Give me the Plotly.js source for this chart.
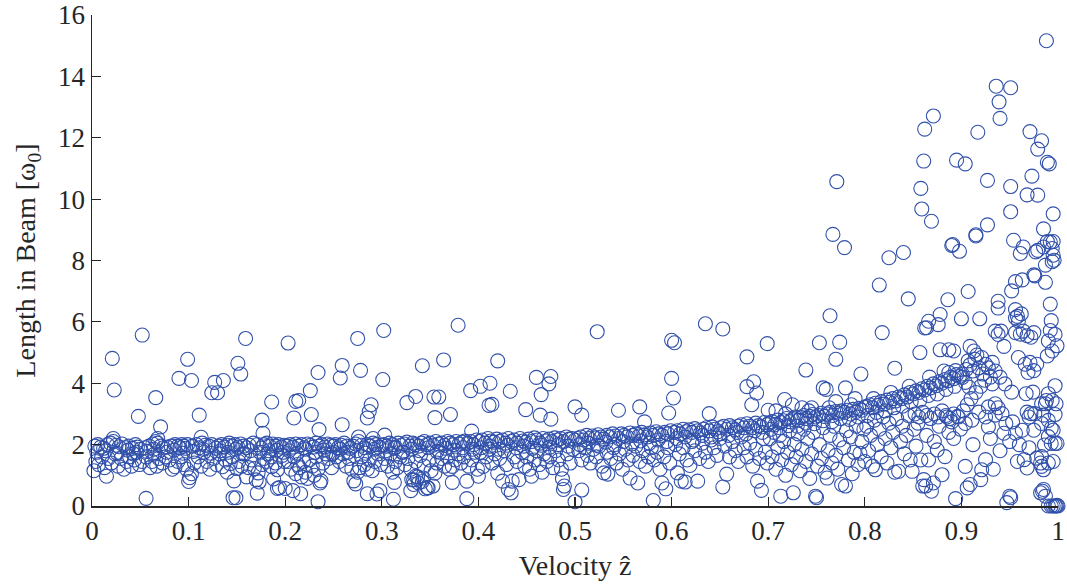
<!DOCTYPE html>
<html>
<head>
<meta charset="utf-8">
<script src="https://cdn.plot.ly/plotly-3.0.1.min.js"></script>
<style>
  html, body { margin: 0; padding: 0; background: #fff; }
  #plot { width: 1067px; height: 588px; }
</style>
</head>
<body>
<div id="plot"></div>
<script>
// Measured particles: [velocity ẑ, length in beam (ω0)], grouped by velocity decade.
const seg00 = [
  [.003,1.95],[.006,2.0],[.009,1.92],[.012,1.88],[.016,2.0],[.019,2.05],[.022,2.1],[.025,1.98],[.028,1.93],[.031,2.02],[.035,1.9],[.038,1.95],[.042,1.88],[.045,2.0],[.047,1.92],[.050,1.85],[.055,1.9],[.059,1.95],[.063,2.02],[.066,2.1],[.068,2.05],[.071,1.95],[.074,1.9],[.078,1.92],[.082,1.95],[.086,2.0],[.089,1.95],[.091,1.9],[.093,2.0],[.095,1.95],[.097,1.88],[.099,2.0],
  [.005,1.75],[.014,1.8],[.026,1.72],[.037,1.82],[.043,1.7],[.057,1.78],[.064,1.85],[.077,1.75],[.085,1.82],[.094,1.72],
  [.002,1.15],[.004,1.45],[.007,1.35],[.010,1.6],[.013,1.25],[.015,0.97],[.017,1.55],[.020,1.4],[.024,1.7],[.027,1.3],[.030,1.55],[.033,1.2],[.036,1.45],[.039,1.6],[.041,1.3],[.044,1.5],[.046,1.75],[.049,1.35],[.052,1.45],[.056,1.6],[.060,1.25],[.062,1.45],[.065,1.7],[.067,1.3],[.069,1.55],[.073,1.4],[.076,1.6],[.080,1.5],[.083,1.2],[.086,1.28],[.089,1.45],[.092,1.6],[.095,1.35],[.098,1.2],[.100,0.8],[.101,0.92],[.103,1.05],
  [.021,4.81],[.023,3.78],[.052,5.57],[.048,2.92],[.056,0.25],[.066,3.53],[.071,2.58],[.090,4.16],[.099,4.78],[.103,4.09],[.068,2.2],[.022,2.2]
];
const seg10 = [
  [.104,1.95],[.108,2.0],[.111,1.9],[.114,2.05],[.117,1.98],[.121,1.95],[.124,2.0],[.128,1.88],[.131,1.95],[.134,2.0],[.137,1.92],[.140,1.98],[.142,2.05],[.145,1.95],[.148,2.0],[.151,1.92],[.154,2.02],[.157,1.95],[.160,1.9],[.163,1.98],[.167,2.05],[.171,2.0],[.175,1.88],[.178,2.0],[.181,2.05],[.184,1.95],[.187,2.02],[.190,1.95],[.193,2.0],[.196,1.92],[.199,1.98],
  [.105,1.78],[.115,1.85],[.123,1.72],[.133,1.8],[.141,1.75],[.149,1.85],[.156,1.7],[.164,1.8],[.174,1.75],[.182,1.7],[.191,1.82],[.198,1.75],
  [.106,1.4],[.110,1.6],[.113,1.3],[.116,1.75],[.119,1.45],[.122,1.2],[.126,1.55],[.129,1.35],[.132,1.7],[.135,1.28],[.138,1.5],[.140,1.1],[.143,1.38],[.145,1.6],[.147,0.82],[.150,1.22],[.152,1.45],[.155,1.3],[.158,1.7],[.160,0.95],[.162,1.25],[.165,1.5],[.168,1.22],[.170,0.85],[.173,0.78],[.176,1.35],[.178,1.55],[.181,1.45],[.183,1.8],[.186,1.28],[.188,0.88],[.190,1.4],[.192,1.18],[.194,0.6],[.197,1.65],[.199,1.45],[.172,1.08],[.185,1.6],
  [.111,2.96],[.113,2.24],[.124,3.69],[.127,4.03],[.130,3.69],[.136,4.09],[.151,4.65],[.154,4.30],[.159,5.46],[.146,0.27],[.149,0.27],[.171,0.42],[.176,2.80],[.177,2.37],[.186,3.39],[.200,0.57]
];
const seg20 = [
  [.202,1.95],[.205,2.0],[.208,1.92],[.211,2.02],[.214,1.95],[.217,2.0],[.220,1.9],[.223,2.02],[.226,1.98],[.229,1.92],[.232,2.05],[.235,1.95],[.238,2.0],[.241,1.92],[.244,2.02],[.247,1.98],[.250,1.95],[.252,2.0],[.255,1.9],[.258,1.98],[.261,2.05],[.264,1.95],[.267,1.88],[.270,1.95],[.273,2.02],[.276,2.1],[.279,1.98],[.282,1.9],[.285,2.0],[.288,1.95],[.291,2.05],[.294,2.0],[.297,1.92],[.300,1.98],
  [.204,1.8],[.212,1.72],[.221,1.85],[.231,1.75],[.240,1.82],[.249,1.7],[.257,1.85],[.265,1.75],[.274,1.8],[.283,1.72],[.292,1.85],
  [.203,1.45],[.206,1.2],[.209,1.6],[.211,1.05],[.213,1.35],[.215,1.25],[.217,0.95],[.219,1.45],[.221,1.1],[.223,0.9],[.225,1.5],[.228,1.3],[.230,1.0],[.232,1.6],[.234,1.2],[.236,0.75],[.237,0.82],[.239,1.4],[.242,1.7],[.245,1.55],[.248,1.25],[.250,1.75],[.253,1.6],[.256,1.45],[.260,1.7],[.263,1.3],[.266,1.55],[.269,1.2],[.271,0.82],[.273,0.72],[.275,1.1],[.277,1.25],[.279,1.6],[.282,1.35],[.285,1.2],[.287,1.5],[.290,1.15],[.293,1.45],[.296,1.7],[.299,1.35],
  [.203,5.31],[.211,3.41],[.214,3.44],[.209,2.87],[.226,3.76],[.227,2.98],[.234,4.35],[.235,2.49],[.234,0.14],[.216,0.40],[.192,0.57],[.208,0.5],[.257,4.17],[.259,4.58],[.259,2.65],[.275,5.46],[.278,4.42],[.285,2.87],[.287,3.08],[.289,3.30],[.285,0.40],[.295,0.39],[.298,0.5],[.276,2.25],[.291,2.2]
];
const seg30 = [
  [.302,2.0],[.305,1.95],[.308,2.05],[.311,2.0],[.314,1.92],[.317,2.05],[.320,1.98],[.323,2.02],[.326,2.08],[.329,1.95],[.332,2.05],[.335,2.0],[.338,1.95],[.341,2.05],[.344,2.1],[.347,2.0],[.350,2.05],[.353,1.98],[.356,2.1],[.359,2.02],[.362,2.05],[.365,1.98],[.368,2.1],[.371,2.05],[.374,2.0],[.377,2.1],[.380,2.02],[.383,2.08],[.386,2.12],[.389,2.05],[.392,2.1],[.395,2.0],[.398,2.15],
  [.304,1.8],[.313,1.88],[.321,1.75],[.331,1.85],[.339,1.8],[.348,1.9],[.357,1.78],[.366,1.88],[.375,1.82],[.384,1.9],[.394,1.85],
  [.303,1.55],[.306,1.3],[.309,1.7],[.311,1.1],[.314,1.45],[.316,1.25],[.319,1.6],[.322,1.75],[.324,1.35],[.327,1.55],[.330,1.2],[.333,0.85],[.335,1.45],[.337,0.95],[.340,1.65],[.342,0.8],[.344,1.3],[.347,0.6],[.349,1.5],[.351,1.15],[.353,0.65],[.355,1.07],[.357,1.4],[.360,1.75],[.362,1.55],[.365,1.3],[.368,1.6],[.370,1.2],[.373,0.77],[.373,1.29],[.376,1.5],[.379,1.7],[.382,1.4],[.385,1.6],[.388,0.81],[.390,1.3],[.393,1.5],[.396,1.75],[.399,1.2],
  [.331,0.86],[.335,0.97],[.333,0.7],[.343,0.91],[.345,0.56],
  [.302,5.72],[.301,4.12],[.303,2.31],[.312,0.22],[.313,0.77],[.326,3.37],[.335,3.57],[.342,4.57],[.354,3.55],[.355,2.88],[.359,3.55],[.364,4.76],[.371,2.98],[.379,5.89],[.392,3.76],[.393,2.44],[.388,0.24],[.348,0.59],[.330,0.5],[.338,0.75]
];
const seg40 = [
  [.401,2.1],[.404,2.15],[.407,2.05],[.410,2.2],[.413,2.12],[.416,2.08],[.419,2.18],[.422,2.1],[.425,2.15],[.428,2.05],[.431,2.2],[.434,2.1],[.437,2.15],[.440,2.05],[.443,2.2],[.446,2.12],[.449,2.08],[.452,2.18],[.455,2.1],[.458,2.22],[.461,2.15],[.464,2.05],[.467,2.2],[.470,2.12],[.473,2.18],[.476,2.1],[.479,2.22],[.482,2.15],[.485,2.2],[.488,2.1],[.491,2.25],[.494,2.18],[.497,2.2],[.500,2.15],
  [.403,1.9],[.412,1.95],[.421,1.85],[.430,1.98],[.439,1.9],[.447,1.95],[.456,1.88],[.465,1.98],[.474,1.92],[.483,2.0],[.493,1.95],
  [.402,1.75],[.405,1.29],[.408,1.6],[.411,1.85],[.414,1.4],[.417,1.7],[.420,1.07],[.422,1.55],[.425,0.81],[.427,1.8],[.429,1.35],[.431,0.54],[.434,0.43],[.435,0.81],[.437,1.6],[.440,1.45],[.442,0.86],[.445,1.75],[.448,1.3],[.450,1.6],[.453,1.2],[.455,0.97],[.458,1.5],[.460,1.8],[.463,1.35],[.466,1.1],[.468,1.7],[.471,1.45],[.474,1.6],[.477,1.25],[.480,1.8],[.483,1.5],[.486,1.2],[.487,0.89],[.489,0.65],[.488,0.54],[.492,1.7],[.495,1.4],[.498,1.85],[.400,0.97],
  [.402,3.90],[.412,4.0],[.411,3.28],[.414,3.31],[.420,4.73],[.433,3.74],[.449,3.14],[.460,4.19],[.475,4.22],[.473,3.98],[.465,3.63],[.464,2.96],[.475,2.83],[.500,3.23],[.500,0.14],[.507,0.52]
];
const seg50 = [
  [.503,2.2],[.506,2.25],[.509,2.15],[.512,2.3],[.515,2.2],[.518,2.28],[.521,2.22],[.524,2.32],[.527,2.25],[.530,2.18],[.533,2.3],[.536,2.25],[.539,2.35],[.542,2.28],[.545,2.2],[.548,2.35],[.551,2.3],[.554,2.25],[.557,2.38],[.560,2.3],[.563,2.35],[.566,2.28],[.569,2.4],[.572,2.32],[.575,2.25],[.578,2.38],[.581,2.3],[.584,2.42],[.587,2.35],[.590,2.3],[.593,2.4],[.596,2.35],[.599,2.45],
  [.505,2.0],[.514,2.05],[.523,1.98],[.532,2.08],[.541,2.0],[.550,2.1],[.559,2.02],[.568,2.12],[.577,2.05],[.586,2.15],[.595,2.1],
  [.504,1.8],[.507,1.5],[.510,1.9],[.513,1.65],[.516,1.4],[.519,1.85],[.522,1.6],[.525,1.95],[.528,1.3],[.530,1.08],[.533,1.75],[.534,1.04],[.537,1.55],[.540,1.9],[.543,1.4],[.546,1.7],[.549,1.2],[.552,1.85],[.555,1.5],[.557,0.91],[.560,1.65],[.563,1.95],[.565,0.75],[.567,1.45],[.570,1.8],[.573,1.3],[.576,1.6],[.579,1.9],[.582,1.5],[.585,1.75],[.588,1.2],[.590,0.75],[.592,1.6],[.594,0.56],[.596,1.9],[.598,1.4],
  [.523,5.68],[.545,3.12],[.567,3.23],[.572,2.74],[.581,0.18],[.600,5.4],[.603,5.32],[.600,4.16],[.602,3.52],[.597,3.03],[.507,2.96]
];
const seg60 = [
  [.603,2.4],[.606,2.45],[.609,2.35],[.612,2.5],[.615,2.42],[.618,2.48],[.621,2.4],[.624,2.52],[.627,2.45],[.630,2.38],[.633,2.5],[.636,2.55],[.639,2.45],[.642,2.58],[.645,2.5],[.648,2.42],[.651,2.55],[.654,2.6],[.657,2.5],[.660,2.62],[.663,2.55],[.666,2.48],[.669,2.6],[.672,2.65],[.675,2.55],[.678,2.68],[.681,2.6],[.684,2.55],[.687,2.7],[.690,2.62],[.693,2.58],[.696,2.72],[.699,2.65],
  [.605,2.2],[.614,2.25],[.623,2.15],[.632,2.3],[.641,2.25],[.650,2.35],[.659,2.3],[.668,2.4],[.677,2.35],[.686,2.45],[.694,2.4],
  [.604,2.0],[.606,1.08],[.608,1.7],[.610,0.81],[.612,1.9],[.614,0.78],[.616,1.5],[.619,1.32],[.621,2.1],[.624,1.8],[.627,0.81],[.629,1.55],[.632,2.05],[.635,1.75],[.638,1.45],[.641,2.15],[.644,1.9],[.647,1.65],[.650,2.2],[.653,0.62],[.655,1.95],[.657,1.04],[.660,1.6],[.663,2.1],[.666,1.8],[.669,1.45],[.672,2.25],[.675,1.9],[.678,1.6],[.681,2.05],[.684,1.3],[.687,1.85],[.689,0.81],[.691,1.55],[.693,0.51],[.695,2.2],[.697,1.75],[.699,1.4],
  [.635,5.94],[.653,5.77],[.699,5.29],[.678,4.86],[.678,3.89],[.685,4.05],[.688,3.68],[.683,3.3],[.700,3.12],[.639,3.01]
];
const seg70 = [
  [.701,2.7],[.704,2.75],[.707,2.65],[.710,2.8],[.713,2.72],[.716,2.78],[.719,2.85],[.722,2.75],[.725,2.82],[.728,2.9],[.731,2.8],[.734,2.88],[.737,2.95],[.740,2.85],[.743,2.92],[.746,2.98],[.749,2.9],[.752,2.95],[.755,3.02],[.758,2.92],[.761,3.0],[.764,3.05],[.767,2.95],[.770,3.08],[.773,3.02],[.776,3.1],[.779,3.05],[.782,3.12],[.785,3.0],[.788,3.15],[.791,3.08],[.794,3.18],[.797,3.12],[.800,3.22],
  [.703,2.5],[.712,2.55],[.721,2.62],[.730,2.6],[.739,2.7],[.748,2.68],[.757,2.78],[.766,2.75],[.775,2.85],[.784,2.82],[.793,2.9],[.718,3.0],[.742,3.1],[.763,3.2],[.786,3.3],
  [.708,3.1],[.725,3.3],[.745,3.2],[.757,3.85],[.760,3.8],[.780,3.85],[.717,3.47],[.770,3.4],[.790,3.5],[.735,3.2],
  [.702,2.2],[.704,1.6],[.706,2.4],[.708,1.2],[.710,1.9],[.712,2.3],[.713,0.32],[.714,1.5],[.716,2.1],[.718,1.0],[.720,1.75],[.722,2.45],[.724,1.35],[.726,0.43],[.727,2.0],[.729,1.6],[.731,2.35],[.733,1.15],[.735,1.85],[.737,2.5],[.739,1.45],[.741,2.2],[.743,0.9],[.745,1.7],[.747,2.4],[.749,0.32],[.750,0.27],[.751,1.3],[.753,2.0],[.755,1.55],[.757,2.55],[.759,1.1],[.761,0.91],[.762,1.8],[.764,2.3],[.766,1.4],[.768,2.6],[.770,1.65],[.772,1.2],[.774,2.15],[.776,0.7],[.778,1.9],[.780,0.65],[.781,2.45],[.783,1.5],[.785,2.25],[.787,1.05],[.789,1.75],[.791,2.6],[.793,1.35],[.795,1.72],[.797,2.1],[.799,2.5],[.800,1.45],
  [.739,4.43],[.753,5.32],[.774,5.34],[.770,4.78],[.764,6.2],[.771,10.57],[.767,8.85],[.779,8.42],[.796,4.3]
];
const seg80 = [
  [.802,3.25],[.805,3.3],[.808,3.2],[.811,3.35],[.814,3.28],[.817,3.4],[.820,3.32],[.823,3.45],[.826,3.38],[.829,3.5],[.832,3.42],[.835,3.55],[.838,3.5],[.841,3.62],[.844,3.55],[.847,3.7],[.850,3.65],[.853,3.75],[.856,3.7],[.859,3.82],[.862,3.78],[.865,3.9],[.868,3.85],[.871,3.98],[.874,3.92],[.877,4.05],[.880,4.0],[.883,4.12],[.886,4.08],[.889,4.2],[.892,4.15],[.895,4.28],[.898,4.22],
  [.803,2.95],[.812,3.05],[.821,3.1],[.830,3.2],[.839,3.25],[.848,3.4],[.857,3.45],[.866,3.6],[.875,3.65],[.884,3.8],[.893,3.9],[.809,3.5],[.827,3.7],[.846,3.9],[.867,4.2],[.882,4.4],
  [.852,3.0],[.856,2.9],[.860,3.05],[.864,2.95],[.868,2.85],[.872,3.0],[.876,2.9],[.880,3.1],[.884,2.95],[.888,2.85],[.892,3.0],[.896,2.92],
  [.802,2.6],[.804,1.8],[.806,2.3],[.808,1.3],[.810,2.8],[.811,1.18],[.813,2.0],[.815,2.5],[.817,1.6],[.819,2.9],[.821,2.2],[.823,1.4],[.825,2.7],[.827,1.9],[.829,2.4],[.831,1.1],[.833,2.85],[.835,1.13],[.837,2.1],[.839,2.6],[.841,1.7],[.843,2.3],[.845,2.95],[.847,1.5],[.849,1.13],[.851,2.5],[.853,1.95],[.855,2.7],[.858,1.5],[.860,0.65],[.861,0.86],[.863,0.65],[.864,2.3],[.866,1.5],[.869,0.48],[.871,0.75],[.872,2.1],[.875,1.83],[.877,2.6],[.880,1.02],[.883,1.61],[.885,2.9],[.887,2.4],[.890,2.74],[.892,2.2],[.894,0.24],[.897,2.9],[.899,2.5],
  [.815,7.2],[.845,6.75],[.818,5.65],[.831,4.49],[.857,5.0],[.862,5.8],[.866,6.02],[.878,6.24],[.876,5.91],[.864,5.81],[.878,5.09],[.887,5.09],[.892,5.05],[.887,4.35],[.894,4.41],[.886,6.72],[.825,8.09],[.840,8.26],[.871,12.71],[.862,12.28],[.861,11.24],[.895,11.27],[.858,10.35],[.859,9.68],[.869,9.28],[.890,8.49],[.898,8.3],[.891,8.52]
];
const seg90 = [
  [.901,4.19],[.904,4.03],[.908,3.87],[.901,4.3],[.905,4.45],[.909,4.6],[.907,4.73],[.909,5.2],[.913,5.05],[.914,4.78],[.916,4.92],[.921,4.84],[.925,4.62],[.932,4.68],[.912,4.4],[.918,4.5],[.922,4.3],[.928,4.5],[.932,3.98],[.945,3.98],[.952,3.71],[.935,3.33],[.928,3.23],[.925,2.9],[.918,3.06],[.904,2.69],[.911,2.8],[.902,3.1],[.906,3.3],[.910,3.5],[.915,3.7],[.920,3.9],[.924,4.1],[.930,4.2],[.935,4.4],[.940,4.2],[.928,2.58],[.935,2.96],[.942,3.01],[.938,3.2],[.946,2.69],[.953,2.74],[.956,2.37],[.944,2.37],[.963,2.47],[.975,2.47],[.983,2.69],[.993,2.53],[.993,2.04],[.990,2.26],[.999,2.04],[.967,3.66],[.974,3.71],[.972,3.01],[.968,3.06],[.970,2.9],[.976,3.01],[.985,2.96],[.990,3.66],[.997,3.92],[.994,3.44],[.983,3.33],[.988,3.44],[.998,3.33],[.987,3.33],[.997,2.98],[.990,2.79],[.995,2.47],[.986,1.99],[.997,2.04],[.983,1.61],[.990,1.40],
  [.959,4.84],[.966,4.62],[.971,4.68],[.975,4.41],[.978,4.62],[.969,4.35],[.956,5.65],[.961,5.6],[.964,5.7],[.968,5.55],[.972,5.5],[.975,5.65],[.935,5.7],[.938,5.59],[.941,5.7],[.944,5.2],[.956,6.4],[.958,6.18],[.959,6.02],[.956,6.13],[.962,6.26],[.992,6.58],[.993,6.04],[.992,5.72],[.997,5.59],[.999,5.22],[.994,5.05],[.990,5.38],[.989,4.89],[.900,6.1],[.919,6.1],[.907,6.99],[.938,6.67],[.938,6.45],[.952,7.01],[.956,7.31],[.963,7.37],[.975,7.53],[.987,7.29],[.976,7.5],[.915,8.8],[.954,8.66],[.961,8.23],[.964,8.44],[.977,8.28],[.979,8.33],[.985,8.44],[.992,8.6],[.994,8.39],[.995,8.17],[.994,7.96],[.987,7.85],[.996,8.01],[.989,8.62],[.995,8.62],[.927,9.16],[.915,8.84],[.951,9.59],[.995,9.52],[.985,9.03],[.927,10.61],[.951,10.41],[.973,10.75],[.968,10.14],[.979,10.13],[.904,11.15],[.989,11.2],[.991,11.15],[.983,11.9],[.979,11.63],[.971,12.2],[.917,12.18],[.940,12.63],[.939,13.17],[.936,13.68],[.951,13.63],[.988,15.16],
  [.958,1.45],[.965,1.51],[.968,1.24],[.978,1.56],[.982,1.4],[.985,1.18],[.983,1.29],[.995,1.45],[.987,0.32],[.985,0.54],[.982,0.43],[.984,0.48],[.947,0.11],[.951,0.27],[.950,0.32],[.904,1.29],[.909,0.70],[.906,0.59],[.920,0.86],[.921,1.18],[.925,1.51],[.933,1.2],[.912,2.0],[.930,2.2],[.940,1.8],[.960,2.0],[.970,1.9],[.950,2.1],
  [.990,0],[.993,0],[.995,0],[.997,0],[.998,0],[1.0,0],[.999,0.02]
];

const velocityTicks = [0, 0.1, 0.2, 0.3, 0.4, 0.5, 0.6, 0.7, 0.8, 0.9, 1];
const velocityTickText = ['0', '0.1', '0.2', '0.3', '0.4', '0.5', '0.6', '0.7', '0.8', '0.9', '1'];
const lengthTicks = [0, 2, 4, 6, 8, 10, 12, 14, 16];

const allPoints = [].concat(seg00, seg10, seg20, seg30, seg40, seg50, seg60, seg70, seg80, seg90);
const velocity = allPoints.map(p => p[0]);
const beamLength = allPoints.map(p => p[1]);

const serif = '"Liberation Serif", "DejaVu Serif", serif';
const ink = '#262626';
const markerBlue = 'rgb(48,80,170)';

const trace = {
  type: 'scatter',
  mode: 'markers',
  x: velocity,
  y: beamLength,
  cliponaxis: false,
  marker: {
    symbol: 'circle-open',
    size: 14,
    color: markerBlue,
    line: { width: 1.1, color: markerBlue }
  },
  hoverinfo: 'x+y'
};

const axisCommon = {
  showgrid: false,
  zeroline: false,
  showline: true,
  linecolor: ink,
  linewidth: 1.5,
  mirror: false,
  ticks: 'inside',
  ticklen: 9,
  tickwidth: 1.2,
  tickcolor: ink,
  ticklabeloverflow: 'allow',
  tickfont: { family: serif, size: 27, color: ink },
  automargin: false
};

const layout = {
  width: 1067,
  height: 588,
  margin: { l: 92, r: 9, t: 15, b: 82 },
  paper_bgcolor: '#ffffff',
  plot_bgcolor: '#ffffff',
  showlegend: false,
  xaxis: Object.assign({}, axisCommon, {
    range: [0, 1],
    tickmode: 'array',
    tickvals: velocityTicks,
    ticktext: velocityTickText,
    title: { text: 'Velocity ẑ', font: { family: serif, size: 28, color: ink }, standoff: 10 }
  }),
  yaxis: Object.assign({}, axisCommon, {
    range: [0, 16],
    tickmode: 'array',
    tickvals: lengthTicks,
    title: { text: 'Length in Beam [ω<sub>0</sub>]', font: { family: serif, size: 28, color: ink }, standoff: 14 }
  })
};

Plotly.newPlot('plot', [trace], layout, { displayModeBar: false, staticPlot: true });
</script>
</body>
</html>
